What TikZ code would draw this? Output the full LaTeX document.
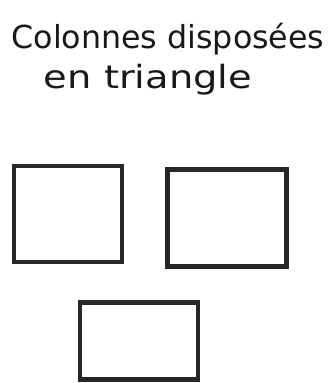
\documentclass[tikz,border=0pt]{standalone}
\usepackage{fontspec}
\setmainfont{DejaVu Sans}
\begin{document}
\begin{tikzpicture}[x=1pt,y=-1pt,
  colbox/.style={draw=black!85, line width=4.5pt, rectangle, inner sep=0pt},
  note/.style={text=black!90, inner sep=0pt, font=\fontsize{32}{36}\selectfont}]
\useasboundingbox[fill=white] (0,0) rectangle (332,383);
\node[note, anchor=center] (t1) at (168,39) {\resizebox{313pt}{!}{Colonnes disposées}};
\node[note, anchor=center] (t2) at (148,80) {\scalebox{1.2}[1]{en triangle}};
\node[colbox, minimum width=108pt, minimum height=96pt] (b1) at (68,214) {};
\node[colbox, minimum width=119pt, minimum height=97pt] (b2) at (227,218) {};
\node[colbox, minimum width=118pt, minimum height=77pt] (b3) at (139,341) {};
\end{tikzpicture}
\end{document}
